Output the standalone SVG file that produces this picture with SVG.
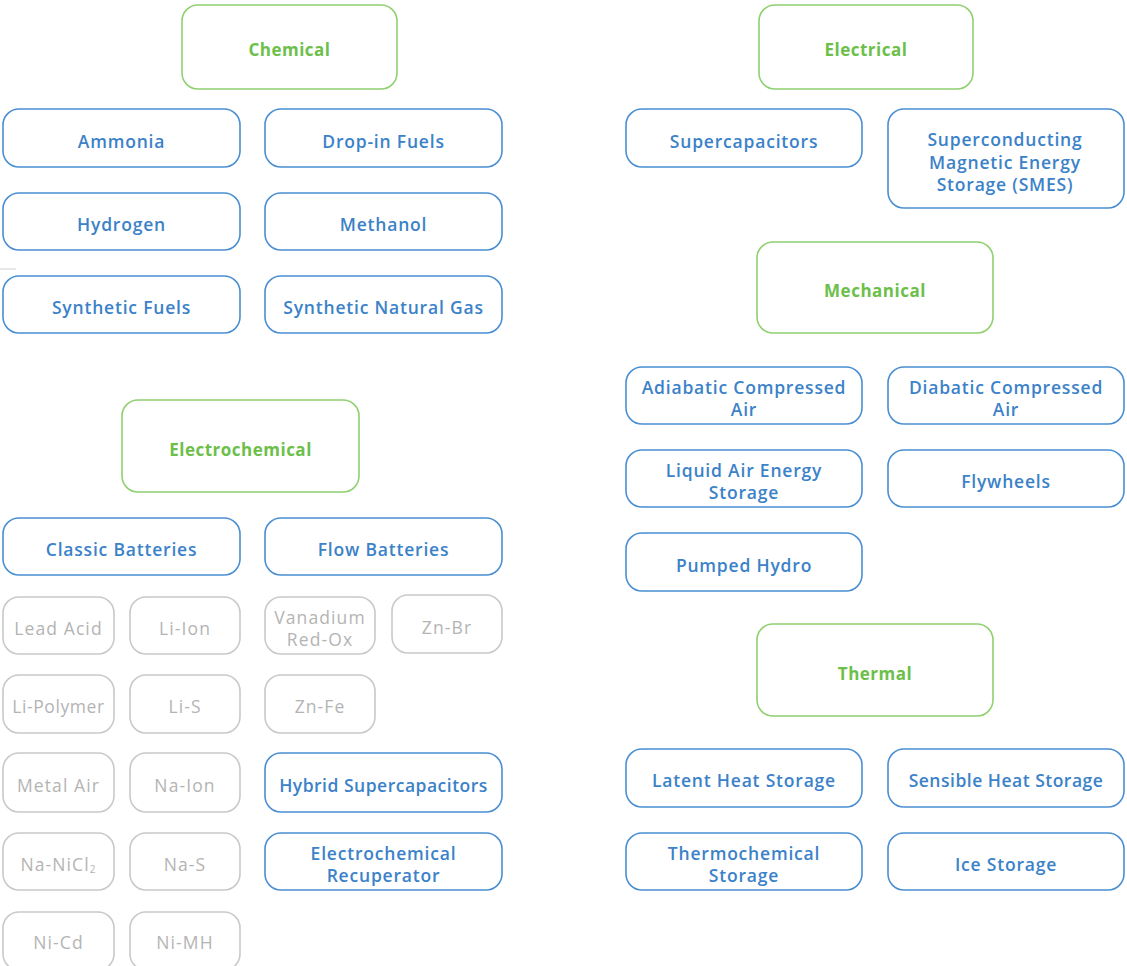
<svg xmlns="http://www.w3.org/2000/svg" width="1127" height="966" viewBox="0 0 1127 966">
<style>
rect{fill:#fff;stroke-width:1.6}
.g rect{stroke:#8fd06f}
.b rect{stroke:#4a8fd2}
.x rect{stroke:#c9c9c9}
text{font-family:"Open Sans","Liberation Sans",sans-serif;text-anchor:middle;dominant-baseline:central}
.g text{fill:#6cc04a;font-weight:700;font-size:17px;letter-spacing:0.5px}
.b text{fill:#3b82c8;font-weight:600;font-size:17.5px;letter-spacing:0.8px}
.x text{fill:#b4b4b4;font-weight:400;font-size:17.5px;letter-spacing:1.1px}
</style>
<rect x="0" y="0" width="1127" height="966" style="fill:#fff;stroke:none"/>
<line x1="0" y1="269" x2="16" y2="269" stroke="#d0d0d0" stroke-width="1"/>
<g id="connectors"></g>

<g id="chemical" class="g"><rect x="182" y="5" width="215" height="84" rx="16"/><text x="289.5" y="49">Chemical</text></g>
<g id="ammonia" class="b"><rect x="3" y="109" width="237" height="58" rx="16"/><text x="121.5" y="141">Ammonia</text></g>
<g id="dropin" class="b"><rect x="265" y="109" width="237" height="58" rx="16"/><text x="383.5" y="141">Drop-in Fuels</text></g>
<g id="hydrogen" class="b"><rect x="3" y="193" width="237" height="57" rx="16"/><text x="121.5" y="224">Hydrogen</text></g>
<g id="methanol" class="b"><rect x="265" y="193" width="237" height="57" rx="16"/><text x="383.5" y="224">Methanol</text></g>
<g id="synfuels" class="b"><rect x="3" y="276" width="237" height="57" rx="16"/><text x="121.5" y="307">Synthetic Fuels</text></g>
<g id="sng" class="b"><rect x="265" y="276" width="237" height="57" rx="16"/><text x="383.5" y="307">Synthetic Natural Gas</text></g>

<g id="electrochemical" class="g"><rect x="122" y="400" width="237" height="92" rx="16"/><text x="240.5" y="449">Electrochemical</text></g>
<g id="classic" class="b"><rect x="3" y="518" width="237" height="57" rx="16"/><text x="121.5" y="549">Classic Batteries</text></g>
<g id="flow" class="b"><rect x="265" y="518" width="237" height="57" rx="16"/><text x="383.5" y="549">Flow Batteries</text></g>

<g id="leadacid" class="x"><rect x="3" y="597" width="111" height="57" rx="16"/><text x="58.5" y="628">Lead Acid</text></g>
<g id="liion" class="x"><rect x="130" y="597" width="110" height="57" rx="16"/><text x="185" y="628">Li-Ion</text></g>
<g id="vanadium" class="x"><rect x="265" y="597" width="110" height="57" rx="16"/><text x="320" y="617">Vanadium</text><text x="320" y="639">Red-Ox</text></g>
<g id="znbr" class="x"><rect x="392" y="595" width="110" height="58" rx="16"/><text x="447" y="627">Zn-Br</text></g>
<g id="lipolymer" class="x"><rect x="3" y="675" width="111" height="58" rx="16"/><text x="58.5" y="706" style="letter-spacing:0.6px">Li-Polymer</text></g>
<g id="lis" class="x"><rect x="130" y="675" width="110" height="58" rx="16"/><text x="185" y="706">Li-S</text></g>
<g id="znfe" class="x"><rect x="265" y="675" width="110" height="58" rx="16"/><text x="320" y="706">Zn-Fe</text></g>
<g id="metalair" class="x"><rect x="3" y="753" width="111" height="59" rx="16"/><text x="58.5" y="785">Metal Air</text></g>
<g id="naion" class="x"><rect x="130" y="753" width="110" height="59" rx="16"/><text x="185" y="785">Na-Ion</text></g>
<g id="hybrid" class="b"><rect x="265" y="753" width="237" height="59" rx="16"/><text x="383.5" y="785" style="letter-spacing:0.5px">Hybrid Supercapacitors</text></g>
<g id="nanicl" class="x"><rect x="3" y="833" width="111" height="57" rx="16"/><text x="58.5" y="864">Na-NiCl<tspan font-size="10" dy="5">2</tspan></text></g>
<g id="nas" class="x"><rect x="130" y="833" width="110" height="57" rx="16"/><text x="185" y="864">Na-S</text></g>
<g id="recuperator" class="b"><rect x="265" y="833" width="237" height="57" rx="16"/><text x="383.5" y="853">Electrochemical</text><text x="383.5" y="875">Recuperator</text></g>
<g id="nicd" class="x"><rect x="3" y="912" width="111" height="58" rx="16"/><text x="58.5" y="942">Ni-Cd</text></g>
<g id="nimh" class="x"><rect x="130" y="912" width="110" height="58" rx="16"/><text x="185" y="942">Ni-MH</text></g>

<g id="electrical" class="g"><rect x="759" y="5" width="214" height="84" rx="16"/><text x="866" y="49">Electrical</text></g>
<g id="supercap" class="b"><rect x="626" y="109" width="236" height="58" rx="16"/><text x="744" y="141">Supercapacitors</text></g>
<g id="smes" class="b"><rect x="888" y="109" width="236" height="99" rx="16"/><text x="1005" y="139">Superconducting</text><text x="1005" y="162">Magnetic Energy</text><text x="1005" y="184">Storage (SMES)</text></g>

<g id="mechanical" class="g"><rect x="757" y="242" width="236" height="91" rx="16"/><text x="875" y="290">Mechanical</text></g>
<g id="adiabatic" class="b"><rect x="626" y="367" width="236" height="57" rx="16"/><text x="744" y="387">Adiabatic Compressed</text><text x="744" y="409">Air</text></g>
<g id="diabatic" class="b"><rect x="888" y="367" width="236" height="57" rx="16"/><text x="1006" y="387">Diabatic Compressed</text><text x="1006" y="409">Air</text></g>
<g id="liquidair" class="b"><rect x="626" y="450" width="236" height="57" rx="16"/><text x="744" y="470">Liquid Air Energy</text><text x="744" y="492">Storage</text></g>
<g id="flywheels" class="b"><rect x="888" y="450" width="236" height="57" rx="16"/><text x="1006" y="481">Flywheels</text></g>
<g id="pumped" class="b"><rect x="626" y="533" width="236" height="58" rx="16"/><text x="744" y="565">Pumped Hydro</text></g>

<g id="thermal" class="g"><rect x="757" y="624" width="236" height="92" rx="16"/><text x="875" y="673">Thermal</text></g>
<g id="latent" class="b"><rect x="626" y="749" width="236" height="58" rx="16"/><text x="744" y="780">Latent Heat Storage</text></g>
<g id="sensible" class="b"><rect x="888" y="749" width="236" height="58" rx="16"/><text x="1006" y="780" style="letter-spacing:0.5px">Sensible Heat Storage</text></g>
<g id="thermochem" class="b"><rect x="626" y="833" width="236" height="57" rx="16"/><text x="744" y="853">Thermochemical</text><text x="744" y="875">Storage</text></g>
<g id="ice" class="b"><rect x="888" y="833" width="236" height="57" rx="16"/><text x="1006" y="864">Ice Storage</text></g>
</svg>
